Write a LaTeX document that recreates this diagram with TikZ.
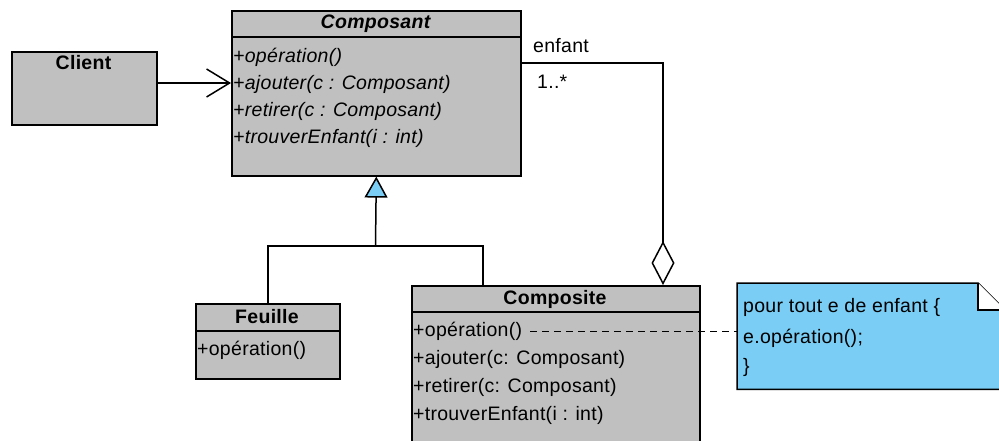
\documentclass[tikz,border=0pt]{standalone}
\usepackage{fontspec}
\setmainfont{Liberation Sans}[LetterSpace=1.5]
\usetikzlibrary{arrows.meta,calc}
\definecolor{umlgray}{HTML}{C0C0C0}
\definecolor{noteblue}{HTML}{7ACDF4}
\begin{document}
\begin{tikzpicture}[x=1pt,y=-1pt,
  font=\fontsize{19.5}{23}\selectfont,
  cls/.style={draw=black, line width=1.6pt, fill=umlgray, rectangle, inner sep=0pt, anchor=north west},
  txt/.style={anchor=west, inner sep=0pt},
  itxt/.style={anchor=west, inner sep=0pt, font=\fontsize{19.5}{23}\selectfont\itshape},
  ttl/.style={anchor=center, inner sep=0pt, font=\fontsize{19.5}{23}\selectfont\bfseries},
  conn/.style={line width=1.5pt, draw=black}]
\useasboundingbox (0,0) rectangle (999,441);
\clip (0,0) rectangle (999,441);
\fill[white] (0,0) rectangle (999,441);

% Client
\node[cls, minimum width=145pt, minimum height=73pt] (client) at (11,51) {};
\node[ttl] (clientT) at (83.5,63) {Client};

% Composant
\node[cls, minimum width=289pt, minimum height=165pt] (comp) at (231,10) {};
\draw[conn] ($(comp.north west)+(0,27)$) -- ($(comp.north east)+(0,27)$);
\node[ttl, font=\fontsize{19.5}{23}\selectfont\bfseries\itshape] (compT) at (375.5,24) {Composant};
\node[itxt] (c1) at (233,57) {+opération()};
\node[itxt] (c2) at (233,84.5) {+ajouter(c : Composant)};
\node[itxt] (c3) at (233,111.5) {+retirer(c : Composant)};
\node[itxt] (c4) at (233,138.5) {+trouverEnfant(i : int)};

% Feuille
\node[cls, minimum width=144pt, minimum height=75pt] (feuille) at (195,303) {};
\draw[conn] ($(feuille.north west)+(0,28)$) -- ($(feuille.north east)+(0,28)$);
\node[ttl] (feuilleT) at (267,317) {Feuille};
\node[txt] (f1) at (197,350) {+opération()};

% Composite
\node[cls, minimum width=288pt, minimum height=180pt] (compo) at (411,285) {};
\draw[conn] ($(compo.north west)+(0,27)$) -- ($(compo.north east)+(0,27)$);
\node[ttl] (compoT) at (555,299) {Composite};
\node[txt] (k1) at (413,331) {+opération()};
\node[txt] (k2) at (413,359) {+ajouter(c: Composant)};
\node[txt] (k3) at (413,387) {+retirer(c: Composant)};
\node[txt] (k4) at (413,415) {+trouverEnfant(i : int)};

% Note
\node[rectangle, inner sep=0pt, minimum width=268pt, minimum height=106pt, anchor=north west] (note) at (737,283) {};
\filldraw[fill=noteblue, draw=black, line width=1.5pt]
  (note.north west) -- ($(note.north west)+(241,0)$) -- ($(note.north west)+(268,27)$)
  -- (note.south east) -- (note.south west) -- cycle;
\filldraw[fill=white, draw=black, line width=1.5pt]
  ($(note.north west)+(241,0)$) -- ($(note.north west)+(241,27)$) -- ($(note.north west)+(268,27)$);
\node[txt] (n1) at (743,307) {pour tout e de enfant \{};
\node[txt] (n2) at (743,338) {e.opération();};
\node[txt] (n3) at (743,367) {\}};

% Connectors
\draw[conn, -{Straight Barb[length=23pt,width=28pt,line width=1.5pt]}] (client.east |- 0,83) -- (comp.west |- 0,83);

\coordinate (j) at (375.5,246);
\coordinate (compoIn) at ($(compo.north west)+(72,0)$);
\draw[conn] (feuille.north) |- (j);
\draw[conn] (compoIn) |- (j);
\draw[conn, -{Triangle[length=21pt,width=23pt,fill=noteblue,line width=1.5pt]}] (j) -- (comp.south);

\coordinate (aggStart) at (comp.east |- 0,63);
\coordinate (aggEnd) at ($(compo.north west)+(252,0)$);
\draw[conn, -{Diamond[length=44pt,width=23pt,fill=white,line width=1.5pt]}] (aggStart) -| (aggEnd);
\node[txt] (enf) at (533,46) {enfant};
\node[txt] (mult) at (537,82) {1..*};

\draw[line width=1pt, dash pattern=on 7pt off 5pt] ($(k1.east)+(8,0)$) -- (note.west |- k1);
\end{tikzpicture}
\end{document}
